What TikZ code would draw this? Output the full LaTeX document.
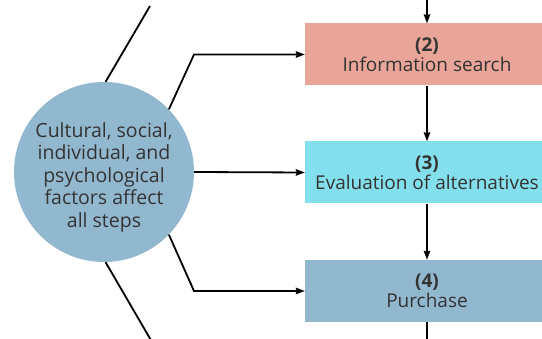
\documentclass[tikz,border=0pt]{standalone}
\usepackage{fontspec}
\setmainfont{Open Sans}
\usetikzlibrary{arrows.meta}
\definecolor{salmonbox}{HTML}{E8A598}
\definecolor{cyanbox}{HTML}{84DFEC}
\definecolor{bluebox}{HTML}{92B8CF}
\definecolor{txt}{HTML}{333333}
\tikzset{
  stepbox/.style={minimum width=244pt, minimum height=62pt, inner sep=0pt, align=center, text=txt, font=\fontsize{19}{20.5}\selectfont},
  conn/.style={line width=1.8pt, black},
  arr/.style={conn, -{Stealth[length=9pt,width=6.5pt,inset=1pt]}},
}
\begin{document}
\begin{tikzpicture}[x=1pt,y=-1pt]
\useasboundingbox (0,0) rectangle (542,339);
\clip (0,0) rectangle (542,339);
\node[circle, fill=bluebox, minimum size=180pt, inner sep=0pt] (c) at (104,172) {};
\node[align=center, text=txt, inner sep=0pt, font=\fontsize{19.5}{22.5}\selectfont] (ct) at ([yshift=-5pt]c.center) {Cultural, social,\\individual, and\\psychological\\factors affect\\all steps};
\node[stepbox, fill=salmonbox] (s2) at (427,54.5) {\textbf{(2)}\\Information search};
\node[stepbox, fill=cyanbox] (s3) at (427,172.5) {\textbf{(3)}\\Evaluation of alternatives};
\node[stepbox, fill=bluebox] (s4) at (427,291) {\textbf{(4)}\\Purchase};
\coordinate (tl) at (150,6);
\coordinate (bl) at (152,342);
\coordinate (k1) at (194,54.5);
\coordinate (k2) at (194,291);
\coordinate (top) at (427,-2);
\coordinate (bot) at (427,342);
\draw[conn] (tl) -- (c.89);
\draw[conn] (c.-89) -- (bl);
\draw[arr] (c.44) -- (k1) -- (s2.west);
\draw[arr] (c.east) -- (s3.west);
\draw[arr] (c.-44) -- (k2) -- (s4.west);
\draw[arr] (top) -- (s2.north);
\draw[arr] (s2.south) -- (s3.north);
\draw[arr] (s3.south) -- (s4.north);
\draw[conn] (s4.south) -- (bot);
\end{tikzpicture}
\end{document}
